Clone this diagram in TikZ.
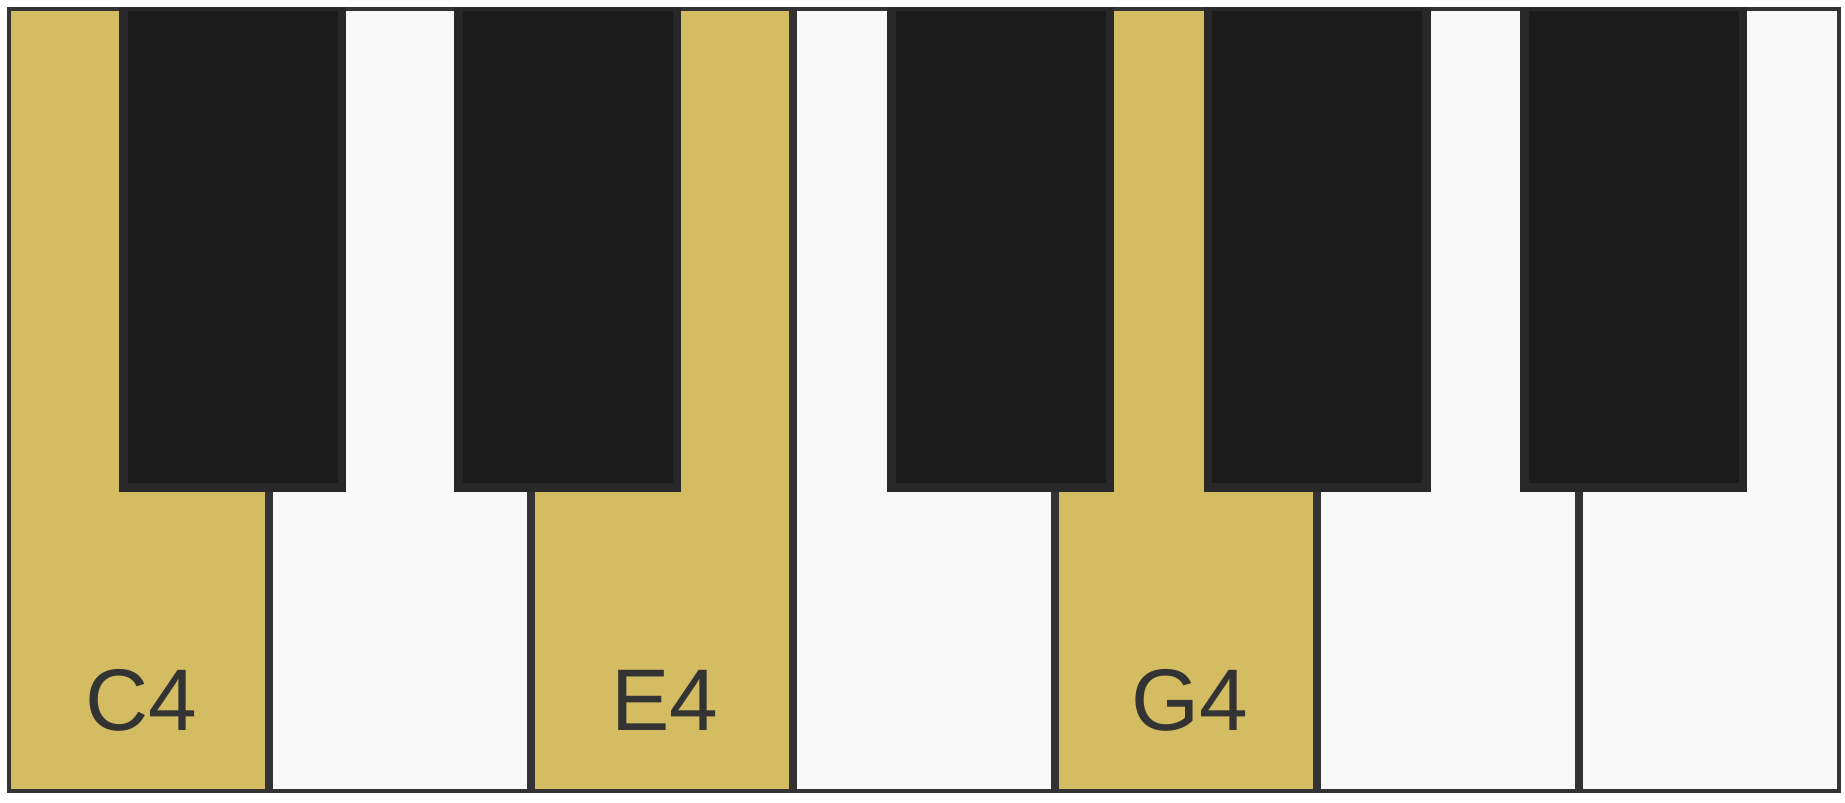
\documentclass[tikz,border=0pt]{standalone}
\usepackage{fontspec}
\setmainfont{Liberation Sans}
\definecolor{keygold}{RGB}{212,188,98}
\definecolor{keywhite}{RGB}{248,248,248}
\definecolor{keyedge}{RGB}{51,51,51}
\definecolor{blackfill}{RGB}{27,27,27}
\definecolor{blackedge}{RGB}{40,40,40}
\definecolor{labelgray}{RGB}{51,51,51}
\tikzset{
  whitekey/.style={draw=keyedge, line width=4pt, fill=keywhite, rectangle,
    minimum width=258pt, minimum height=781.5pt, inner sep=0pt, outer sep=0pt},
  goldkey/.style={whitekey, fill=keygold},
  blackkey/.style={draw=blackedge, line width=8.5pt, fill=blackfill, rectangle,
    minimum width=218.5pt, minimum height=480.5pt, inner sep=0pt, outer sep=0pt},
  notelabel/.style={text=labelgray, font=\fontsize{87.5}{100}\selectfont, anchor=base, inner sep=0pt}
}
\begin{document}
\begin{tikzpicture}[x=1pt,y=-1pt]
\useasboundingbox[fill=white] (0,0) rectangle (1845,803);
% white keys: left edge 7+262i, width 262, top 7, bottom 792.5
\node[goldkey]  (C) at (138,399.75) {};
\node[whitekey] (D) at (400,399.75) {};
\node[goldkey]  (E) at (662,399.75) {};
\node[whitekey] (F) at (924,399.75) {};
\node[goldkey]  (G) at (1186,399.75) {};
\node[whitekey] (A) at (1448,399.75) {};
\node[whitekey] (B) at (1710,399.75) {};
% black keys
\begin{scope}
\clip (7,7) rectangle (1841,792.5);
\node[blackkey] (Cs) at (232.5,247) {};
\node[blackkey] (Ds) at (567.5,247) {};
\node[blackkey] (Fs) at (1000.5,247) {};
\node[blackkey] (Gs) at (1317,247) {};
\node[blackkey] (As) at (1633.5,247) {};
\end{scope}
% labels
\node[notelabel] (labC) at (141.5,730) {C4};
\node[notelabel] (labE) at (665,730) {E4};
\node[notelabel] (labG) at (1189.5,730) {G4};
\end{tikzpicture}
\end{document}
